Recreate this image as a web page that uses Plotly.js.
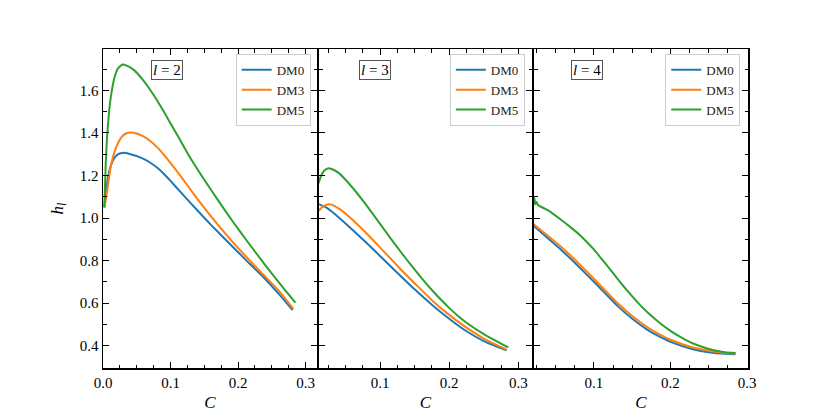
<!DOCTYPE html>
<html>
<head>
<meta charset="utf-8">
<script src="https://cdn.plot.ly/plotly-3.0.1.min.js"></script>
<style>
  html, body { margin: 0; padding: 0; background: #fff; }
  #chart { width: 830px; height: 415px; }
</style>
</head>
<body>
<div id="chart"></div>
<script>
// l = 2
var cL2dm0 = [0.002, 0.005, 0.008, 0.012, 0.017, 0.022, 0.028, 0.034, 0.04, 0.05, 0.06, 0.069, 0.08, 0.09, 0.099, 0.115, 0.1386, 0.16, 0.188, 0.21, 0.2374, 0.26, 0.281];
var hL2dm0 = [1.05, 1.14, 1.20, 1.25, 1.283, 1.299, 1.306, 1.305, 1.300, 1.291, 1.278, 1.262, 1.237, 1.208, 1.178, 1.122, 1.040, 0.968, 0.878, 0.808, 0.723, 0.645, 0.567];
var cL2dm3 = [0.002, 0.005, 0.008, 0.012, 0.017, 0.022, 0.028, 0.034, 0.04, 0.05, 0.06, 0.069, 0.08, 0.09, 0.099, 0.115, 0.1386, 0.16, 0.188, 0.21, 0.2374, 0.26, 0.282];
var hL2dm3 = [1.05, 1.10, 1.17, 1.25, 1.311, 1.35, 1.382, 1.397, 1.402, 1.397, 1.383, 1.364, 1.333, 1.298, 1.263, 1.197, 1.095, 1.008, 0.902, 0.825, 0.735, 0.660, 0.573];
var cL2dm5 = [0.002, 0.004, 0.006, 0.009, 0.012, 0.017, 0.022, 0.029, 0.035, 0.0415, 0.0515, 0.06, 0.0693, 0.08, 0.09, 0.11, 0.126, 0.15, 0.17, 0.193, 0.215, 0.24, 0.267, 0.285];
var hL2dm5 = [1.05, 1.25, 1.38, 1.50, 1.577, 1.66, 1.702, 1.721, 1.716, 1.705, 1.678, 1.645, 1.605, 1.553, 1.50, 1.39, 1.30, 1.18, 1.085, 0.98, 0.885, 0.78, 0.672, 0.603];

// l = 3
var cL3dm0 = [0.011, 0.022, 0.035, 0.0557, 0.08, 0.1, 0.129, 0.15, 0.177, 0.2, 0.225, 0.25, 0.283];
var hL3dm0 = [1.066, 1.050, 1.018, 0.958, 0.885, 0.822, 0.730, 0.665, 0.587, 0.527, 0.468, 0.422, 0.378];
var cL3dm3 = [0.011, 0.018, 0.0244, 0.03, 0.04, 0.0557, 0.08, 0.1, 0.129, 0.15, 0.177, 0.2, 0.225, 0.25, 0.283];
var hL3dm3 = [1.034, 1.055, 1.064, 1.063, 1.045, 1.005, 0.93, 0.862, 0.762, 0.694, 0.608, 0.545, 0.485, 0.434, 0.382];
var cL3dm5 = [0.011, 0.015, 0.02, 0.0244, 0.03, 0.04, 0.0557, 0.08, 0.104, 0.115, 0.129, 0.147, 0.16, 0.177, 0.19, 0.2, 0.212, 0.225, 0.25, 0.2854];
var hL3dm5 = [1.163, 1.200, 1.224, 1.233, 1.230, 1.212, 1.160, 1.062, 0.955, 0.906, 0.845, 0.770, 0.718, 0.655, 0.610, 0.578, 0.542, 0.508, 0.455, 0.392];

// l = 4
var cL4dm0 = [0.0195, 0.03, 0.0573, 0.08, 0.1009, 0.1314, 0.15, 0.17, 0.184, 0.2, 0.228, 0.25, 0.271, 0.285];
var hL4dm0 = [0.968, 0.935, 0.850, 0.772, 0.697, 0.585, 0.527, 0.475, 0.446, 0.418, 0.385, 0.370, 0.362, 0.36];
var cL4dm3 = [0.0195, 0.03, 0.0573, 0.08, 0.1009, 0.1314, 0.15, 0.17, 0.184, 0.2, 0.228, 0.25, 0.271, 0.285];
var hL4dm3 = [0.975, 0.945, 0.864, 0.787, 0.711, 0.598, 0.540, 0.487, 0.457, 0.428, 0.393, 0.376, 0.366, 0.364];
var cL4dm5 = [0.0195, 0.021, 0.022, 0.0235, 0.025, 0.0268, 0.04, 0.0573, 0.07, 0.08, 0.09, 0.1009, 0.11, 0.12, 0.13, 0.1444, 0.16, 0.172, 0.184, 0.2, 0.215, 0.228, 0.25, 0.271, 0.285];
var hL4dm5 = [1.11, 1.06, 1.095, 1.065, 1.075, 1.061, 1.036, 0.991, 0.955, 0.925, 0.89, 0.848, 0.808, 0.764, 0.718, 0.655, 0.592, 0.550, 0.513, 0.47, 0.437, 0.413, 0.385, 0.370, 0.366];

var seriesNames = ['DM0', 'DM3', 'DM5'];
var colors = ['#1f77b4', '#ff7f0e', '#2ca02c'];
var panelLabels = ['<i>l</i> = 2', '<i>l</i> = 3', '<i>l</i> = 4'];

var panels = [
  [[cL2dm0, hL2dm0], [cL2dm3, hL2dm3], [cL2dm5, hL2dm5]],
  [[cL3dm0, hL3dm0], [cL3dm3, hL3dm3], [cL3dm5, hL3dm5]],
  [[cL4dm0, hL4dm0], [cL4dm3, hL4dm3], [cL4dm5, hL4dm5]]
];

var FONT = 'Liberation Serif, Times New Roman, serif';

var data = [];
panels.forEach(function(p, i) {
  var sfx = i === 0 ? '' : String(i + 1);
  p.forEach(function(s, j) {
    data.push({
      x: s[0],
      y: s[1],
      type: 'scatter',
      mode: 'lines',
      name: seriesNames[j],
      line: {color: colors[j], width: 2, shape: 'spline', smoothing: 0.5},
      xaxis: 'x' + sfx,
      yaxis: 'y' + sfx,
      legend: 'legend' + sfx
    });
  });
});

// plot area is 645 px wide; leave 2 px between panels so the spines meet
var yRange = [0.2955, 1.794];
var xRanges = [[0, 0.317], [0.0118, 0.3197], [0.0216, 0.3013]];
var domains = [[0, 214 / 645], [216 / 645, 429 / 645], [431 / 645, 1]];

function xAxis(i) {
  return {
    domain: domains[i],
    range: xRanges[i],
    anchor: i === 0 ? 'y' : 'y' + (i + 1),
    tick0: 0,
    dtick: 0.1,
    tickformat: '.1f',
    ticks: 'inside',
    ticklen: 6,
    tickwidth: 1,
    tickcolor: '#000',
    minor: {ticks: 'inside', dtick: 0.025, ticklen: 3.5, tickwidth: 1, tickcolor: '#000'},
    showline: true,
    linecolor: '#000',
    linewidth: 1.5,
    mirror: 'allticks',
    showgrid: false,
    zeroline: false,
    tickfont: {family: FONT, size: 15, color: '#000'},
    title: {text: '<i>C</i>', font: {family: FONT, size: 17, color: '#000'}, standoff: 6}
  };
}

function yAxis(i) {
  var a = {
    domain: [0, 1],
    range: yRange,
    anchor: i === 0 ? 'x' : 'x' + (i + 1),
    tick0: 0,
    dtick: 0.2,
    tickformat: '.1f',
    ticks: 'inside',
    ticklen: 6,
    tickwidth: 1,
    tickcolor: '#000',
    minor: {ticks: 'inside', dtick: 0.1, ticklen: 3.5, tickwidth: 1, tickcolor: '#000'},
    showline: true,
    linecolor: '#000',
    linewidth: 1.5,
    mirror: 'allticks',
    showgrid: false,
    zeroline: false,
    showticklabels: i === 0,
    tickfont: {family: FONT, size: 15, color: '#000'}
  };
  if (i === 0) {
    a.title = {text: '<i>h</i><sub><i>l</i></sub>', font: {family: FONT, size: 17, color: '#000'}, standoff: 12};
  }
  return a;
}

function legendBox(xr) {
  return {
    x: xr, y: 0.985, xanchor: 'right', yanchor: 'top',
    bgcolor: 'rgba(255,255,255,0.85)',
    bordercolor: '#cccccc',
    borderwidth: 1,
    font: {family: FONT, size: 13, color: '#222'},
    itemwidth: 30,
    tracegroupgap: 0
  };
}

var labelX = [0.298, 0.263, 0.246];
var annotations = panelLabels.map(function(t, i) {
  var sfx = i === 0 ? '' : String(i + 1);
  return {
    text: t,
    xref: 'x' + sfx + ' domain',
    yref: 'y' + sfx + ' domain',
    x: labelX[i],
    y: 0.934,
    xanchor: 'center',
    yanchor: 'middle',
    showarrow: false,
    font: {family: FONT, size: 15, color: '#000'},
    bordercolor: '#555',
    borderwidth: 1,
    borderpad: 1,
    bgcolor: '#fff'
  };
});

var layout = {
  width: 830,
  height: 415,
  margin: {l: 103, r: 82, t: 49, b: 47},
  paper_bgcolor: '#fff',
  plot_bgcolor: '#fff',
  showlegend: true,
  xaxis: xAxis(0), xaxis2: xAxis(1), xaxis3: xAxis(2),
  yaxis: yAxis(0), yaxis2: yAxis(1), yaxis3: yAxis(2),
  legend: legendBox(0.322),
  legend2: legendBox(0.654),
  legend3: legendBox(0.988),
  annotations: annotations
};

Plotly.newPlot('chart', data, layout, {displayModeBar: false, staticPlot: true});
</script>
</body>
</html>
